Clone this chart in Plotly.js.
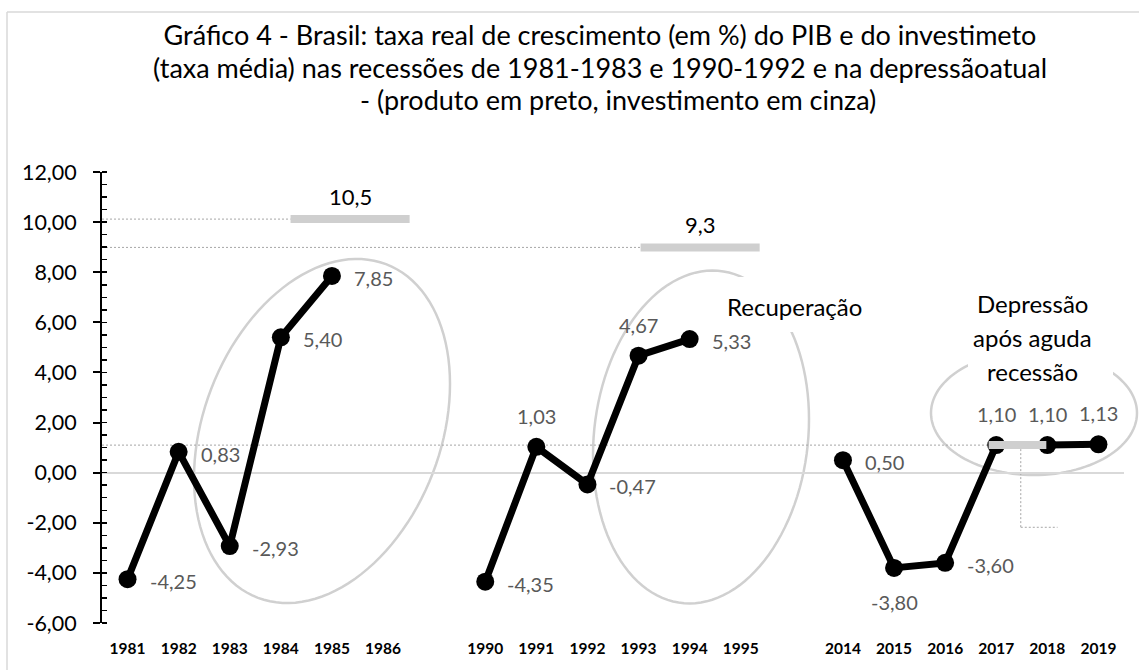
<!DOCTYPE html>
<html>
<head>
<meta charset="utf-8">
<script src="https://cdn.plot.ly/plotly-3.0.1.min.js"></script>
<style>html,body{margin:0;padding:0;background:#fff}#chart{width:1139px;height:670px}</style>
</head>
<body>
<div id="chart"></div>
<script>
// ---------- data ----------
const years1 = ['1981','1982','1983','1984','1985','1986'];
const years2 = ['1990','1991','1992','1993','1994','1995'];
const years3 = ['2014','2015','2016','2017','2018','2019'];
const pib1 = [-4.25, 0.83, -2.93, 5.40, 7.85, null];
const pib2 = [-4.35, 1.03, -0.47, 4.67, 5.33, null];
const pib3 = [0.50, -3.80, -3.60, 1.10, 1.10, 1.13];
// label placement: r = right, t = top, b = bottom
const labelPos1 = ['r','r','r','r','r',''];
const labelPos2 = ['r','t','r','t','r',''];
const labelPos3 = ['r','b','r','t','t','t'];
// investment (grey marks): level drawn, label text
const investLevel = [10.12, 8.99, 1.1];
const investLabel = ['10,5', '9,3', ''];
const titleLines = [
  'Gráfico 4 - Brasil: taxa real de crescimento (em %) do PIB e do investimeto',
  '(taxa média) nas recessões de 1981-1983 e 1990-1992 e na depressãoatual',
  '- (produto em preto, investimento em cinza)'
];
const yTicks = [-6,-4,-2,0,2,4,6,8,10,12];

// ---------- layout geometry ----------
const W = 1139, H = 670;
const M = {l:102, r:15, t:172, b:47};
const PW = W - M.l - M.r, PH = H - M.t - M.b;
const gap = 1; // blank category between groups
const groups = [[years1,pib1,labelPos1],[years2,pib2,labelPos2],[years3,pib3,labelPos3]];
const xs = [], ys = [], tickvals = [], ticktext = [], lpos = [];
groups.forEach((g, gi) => {
  g[0].forEach((yr, i) => {
    const p = gi*(g[0].length+gap) + i;
    xs.push(p); ys.push(g[1][i]); lpos.push(g[2][i]);
    tickvals.push(p); ticktext.push(yr);
  });
});
const fmt = v => v.toFixed(2).replace('.', ',');

// pixel -> paper helpers for free-drawn decorations
const px2x = px => (px - M.l)/PW;
const py2y = py => (H - M.b - py)/PH;
function ellipsePath(cx, cy, ax, ay, by){
  let d = '';
  for(let k=0;k<=120;k++){
    const t = 2*Math.PI*k/120;
    const X = px2x(cx + ax*Math.cos(t));
    const Y = py2y(cy + ay*Math.cos(t) + by*Math.sin(t));
    d += (k===0?'M':'L') + X.toFixed(5) + ',' + Y.toFixed(5) + ' ';
  }
  return d + 'Z';
}
function paperRect(x0,y0,x1,y1,extra){
  return Object.assign({type:'rect', xref:'paper', yref:'paper', x0:px2x(x0), x1:px2x(x1), y0:py2y(y1), y1:py2y(y0)}, extra);
}
function paperLine(x0,y0,x1,y1,line){
  return {type:'line', xref:'paper', yref:'paper', x0:px2x(x0), x1:px2x(x1), y0:py2y(y0), y1:py2y(y1), line:line, layer:'below'};
}

const font = 'Lato, "Open Sans", sans-serif';
const dotted = {color:'#a6a6a6', width:1, dash:'2px,2px'};
const greyBar = {color:'#cfcfcf', width:8};
const ellLine = {color:'#d0d0d0', width:2.5};
const border = {color:'#d9d9d9', width:1.5};

const shapes = [
  // chart border (top and left edges visible in the crop)
  paperLine(7,12,W,12,border),
  paperLine(7,12,7,H,border),
  // ellipses
  {type:'path', xref:'paper', yref:'paper', path:ellipsePath(322,431,128,-47,165.5), line:ellLine, layer:'below'},
  {type:'path', xref:'paper', yref:'paper', path:ellipsePath(701,437,108,-17.8,165.5), line:ellLine, layer:'below'},
  {type:'path', xref:'paper', yref:'paper', path:ellipsePath(1034,413,103,0,62), line:ellLine, layer:'below'},
  // white text boxes (hide parts of the ellipses)
  paperRect(718,277,870,332,{fillcolor:'#fff', line:{width:0}, layer:'above'}),
  paperRect(968,282,1113,378,{fillcolor:'#fff', line:{width:0}, layer:'above'}),
  // dotted guide lines from axis to grey marks
  {type:'line', xref:'x', yref:'y', x0:-0.5, x1:3.19, y0:investLevel[0], y1:investLevel[0], line:dotted, layer:'below'},
  {type:'line', xref:'x', yref:'y', x0:-0.5, x1:10.04, y0:investLevel[1], y1:investLevel[1], line:dotted, layer:'below'},
  {type:'line', xref:'x', yref:'y', x0:-0.5, x1:16.85, y0:investLevel[2], y1:investLevel[2], line:dotted, layer:'below'},
  {type:'line', xref:'x', yref:'y', x0:17.48, x1:17.48, y0:investLevel[2], y1:-2.18, line:dotted, layer:'below'},
  {type:'line', xref:'x', yref:'y', x0:17.48, x1:18.2, y0:-2.18, y1:-2.18, line:dotted, layer:'below'},
  // grey investment marks
  {type:'line', xref:'x', yref:'y', x0:3.19, x1:5.52, y0:investLevel[0], y1:investLevel[0], line:greyBar, layer:'above'},
  {type:'line', xref:'x', yref:'y', x0:10.04, x1:12.37, y0:investLevel[1], y1:investLevel[1], line:greyBar, layer:'above'},
  {type:'line', xref:'x', yref:'y', x0:16.85, x1:17.98, y0:investLevel[2], y1:investLevel[2], line:greyBar, layer:'above'}
];

const annotations = [];
// title lines 2 and 3 (line 1 is layout.title)
const titleFont = {family:font, size:27, color:'#000'};
annotations.push({xref:'paper', yref:'paper', x:px2x(600), y:py2y(67.5), xanchor:'center', yanchor:'middle',
  text:titleLines[1], showarrow:false, font:titleFont});
annotations.push({xref:'paper', yref:'paper', x:px2x(618), y:py2y(99), xanchor:'center', yanchor:'middle',
  text:titleLines[2], showarrow:false, font:titleFont});

xs.forEach((x, i) => {
  if (ys[i] === null) return;
  const p = lpos[i];
  const a = {x:x, y:ys[i], xref:'x', yref:'y', text:fmt(ys[i]), showarrow:false, yanchor:'middle',
             font:{family:font, size:20, color:'#595959'}};
  if (p === 'r') { a.xanchor='left'; a.xshift=20; a.yshift=-2; }
  else if (p === 't') { a.xanchor='center'; a.yshift=31; }
  else if (p === 'b') { a.xanchor='center'; a.yshift=-34; }
  annotations.push(a);
});
// investment labels
[[3.19,5.52],[10.04,12.37]].forEach((sp, i) => {
  annotations.push({x:(sp[0]+sp[1])/2, y:investLevel[i], xref:'x', yref:'y', text:investLabel[i],
    showarrow:false, xanchor:'center', yanchor:'middle', yshift:23, font:{family:font, size:22, color:'#000'}});
});
// text boxes
annotations.push({xref:'paper', yref:'paper', x:px2x(794), y:py2y(306), xanchor:'center', yanchor:'middle',
  text:'Recuperação', showarrow:false, font:{family:font, size:24, color:'#000'}});
[['Depressão',303],['após aguda',337],['recessão',371]].forEach(t => {
  annotations.push({xref:'paper', yref:'paper', x:px2x(1032), y:py2y(t[1]), xanchor:'center', yanchor:'middle',
    text:t[0], showarrow:false, font:{family:font, size:24, color:'#000'}});
});

const trace = {
  x: xs, y: ys, type:'scatter', mode:'lines+markers',
  line:{color:'#000', width:7}, marker:{color:'#000', size:18},
  connectgaps:false, cliponaxis:false, hoverinfo:'skip'
};

const layout = {
  width:W, height:H, margin:M, paper_bgcolor:'#fff', plot_bgcolor:'#fff',
  separators:',.', showlegend:false,
  font:{family:font, color:'#000'},
  title:{text:titleLines[0], font:titleFont,
    x:600/W, xanchor:'center', xref:'container', y:1-36/H, yanchor:'middle', yref:'container'},
  xaxis:{range:[-0.5, 19.5], tickvals:tickvals, ticktext:ticktext, showgrid:false, zeroline:false,
    showline:false, ticks:'', ticklabelstandoff:14,
    tickfont:{family:font, size:15.5, color:'#000', weight:'bold'}},
  yaxis:{range:[-6,12], tickvals:yTicks, ticktext:yTicks.map(fmt), showgrid:false, zeroline:true,
    zerolinecolor:'#d9d9d9', zerolinewidth:2, showline:true, linecolor:'#000', linewidth:2,
    ticks:'outside', ticklen:7, tickwidth:2, tickcolor:'#000', ticklabelstandoff:12,
    tickfont:{family:font, size:21.5, color:'#000'},
    minor:{dtick:0.5, ticks:'inside', ticklen:5, tickwidth:1.5, tickcolor:'#000'}},
  shapes:shapes, annotations:annotations
};
Plotly.newPlot('chart', [trace], layout, {staticPlot:true});
</script>
</body>
</html>
